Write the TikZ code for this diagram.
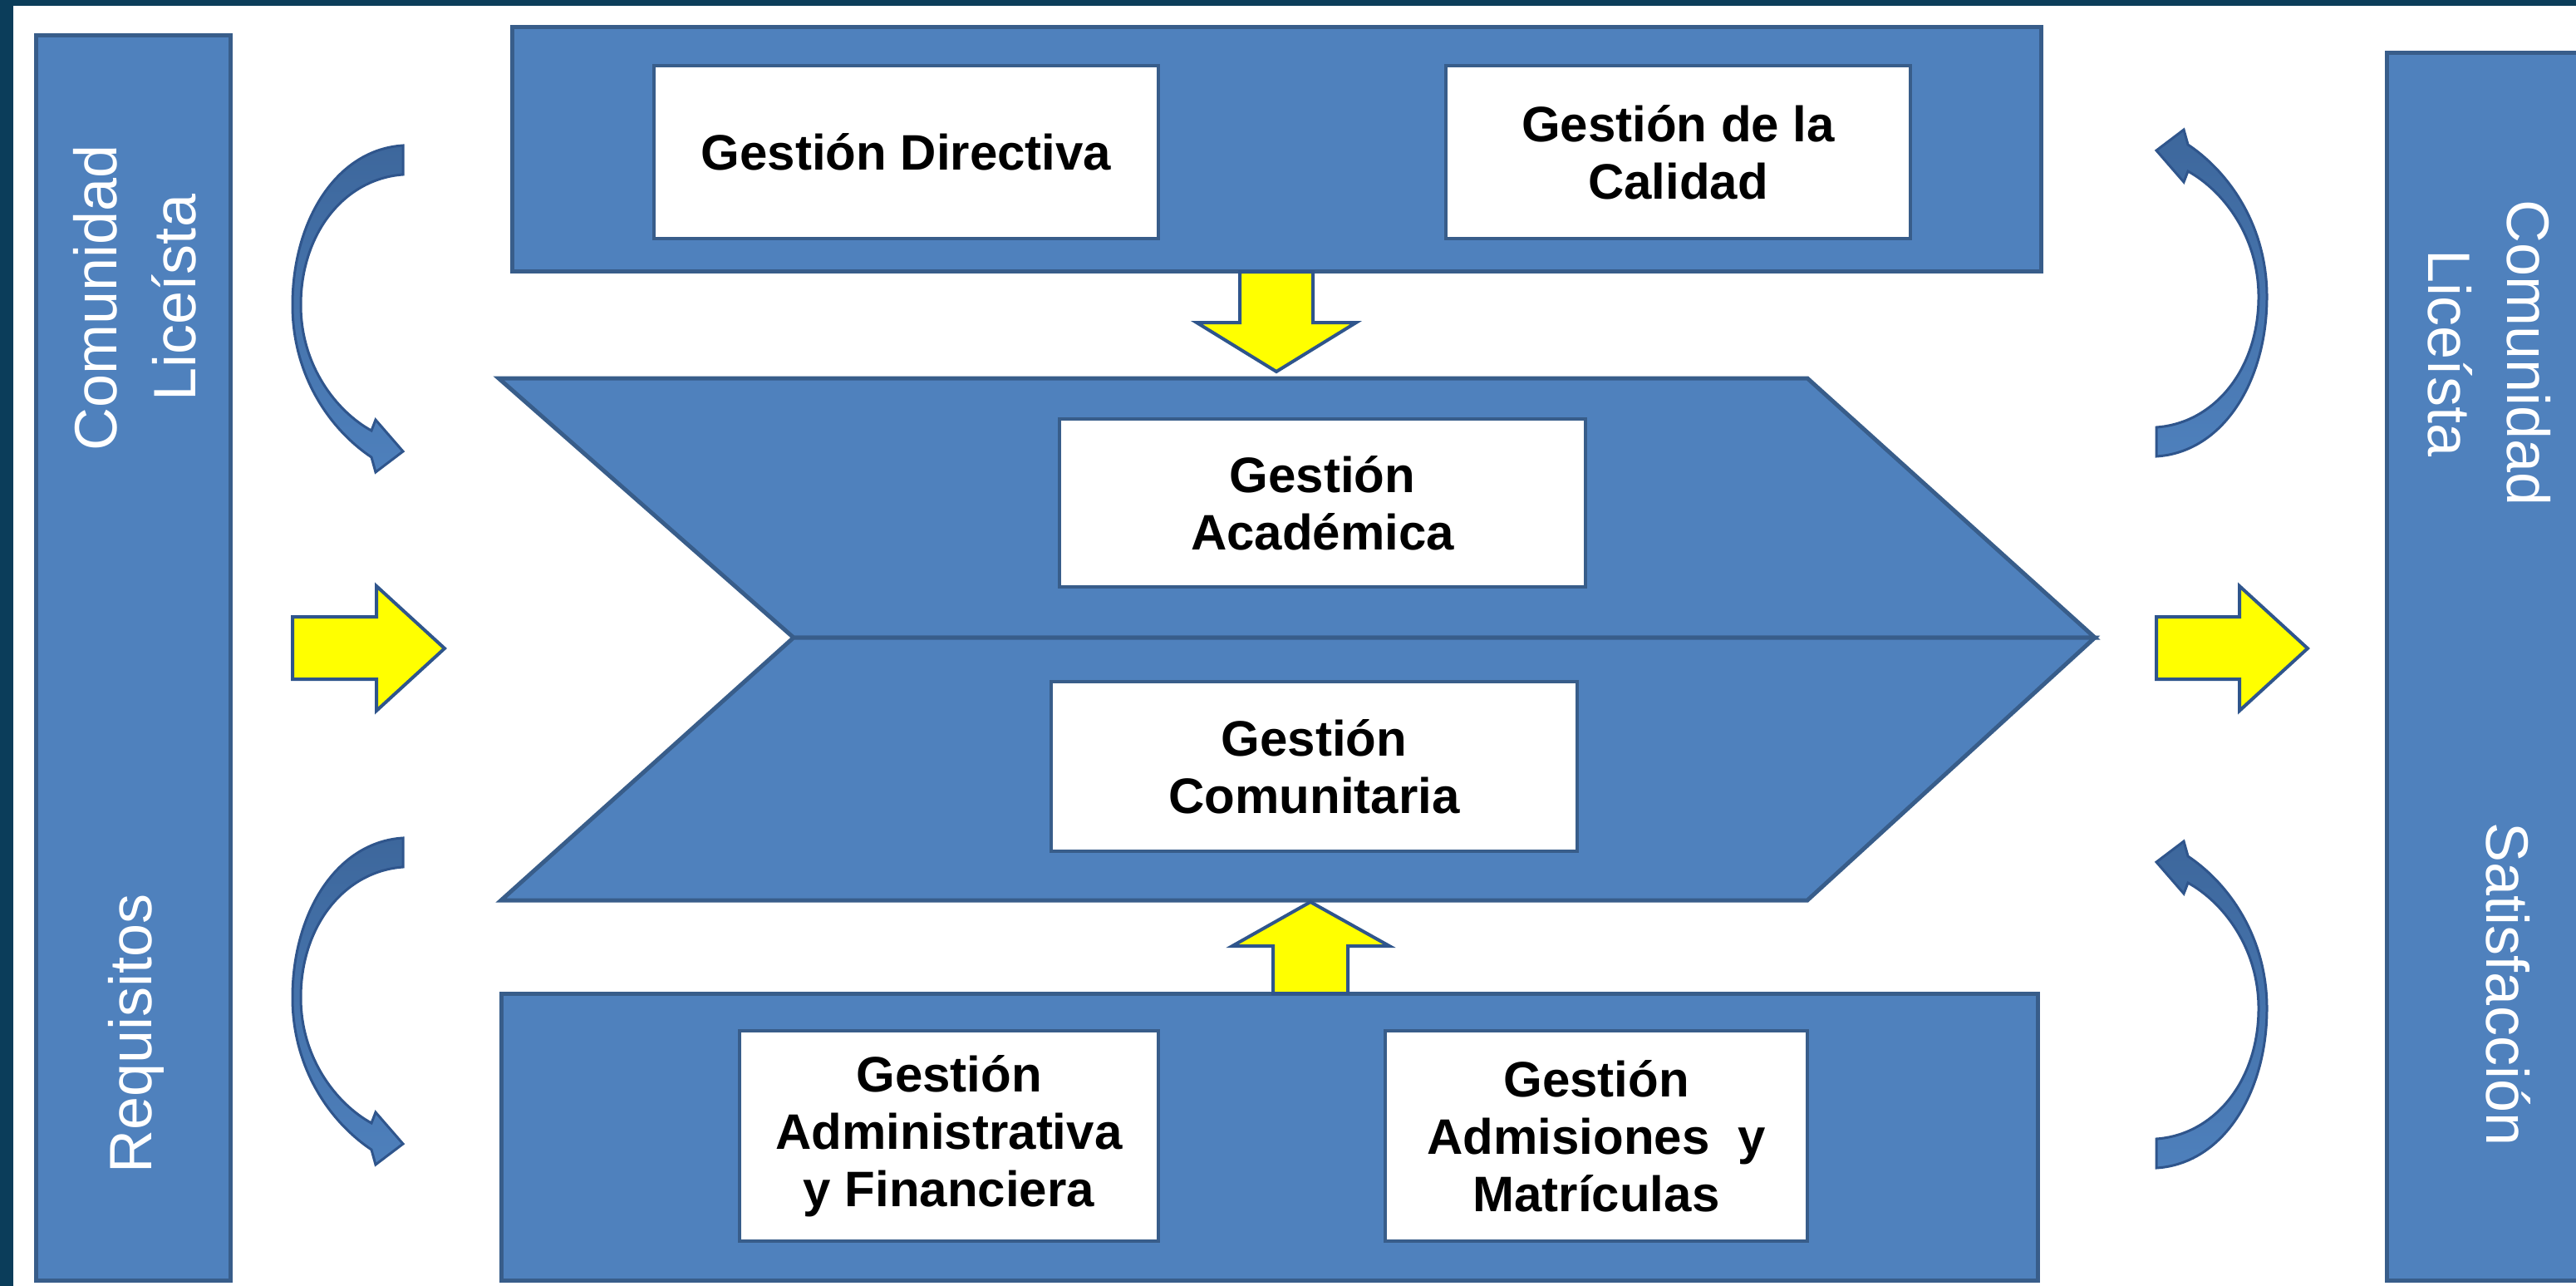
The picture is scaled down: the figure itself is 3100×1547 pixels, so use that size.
\documentclass[tikz,border=0pt]{standalone}
\usepackage{fontspec}
\setmainfont{Liberation Sans}
\definecolor{boxblue}{HTML}{4F81BD}
\definecolor{edgeblue}{HTML}{385D8A}
\definecolor{arcdark}{HTML}{3D679C}
\definecolor{arclight}{HTML}{4E80BC}
\definecolor{arcedge}{HTML}{2F558C}
\definecolor{frameblue}{HTML}{0B3D5A}
\definecolor{yel}{HTML}{FFFF00}
\newcommand\lcArrowShape{(485,175) .. controls (405,180) and (352,265) .. (352,367) .. controls (352,450) and (395,515) .. (447,550) -- (452,568) -- (485,543) -- (452,505) -- (447,518) .. controls (405,495) and (362,440) .. (362,367) .. controls (362,280) and (415,215) .. (485,210) -- cycle}
\tikzset{
 bigbox/.style={fill=boxblue, draw=edgeblue, line width=5pt, inner sep=0pt},
 whitebox/.style={fill=white, draw=edgeblue, line width=4pt, font=\fontsize{60}{69}\selectfont\bfseries, align=center, inner sep=0pt},
 sidetext/.style={text=white, font=\fontsize{72}{95}\selectfont, align=center, inner sep=0pt},
 yarrow/.style={fill=yel, draw=arcedge, line width=4pt},
 carrow/.style={top color=arcdark, bottom color=arclight, draw=arcedge, line width=3pt},
}
\begin{document}
\begin{tikzpicture}[x=1pt, y=-1pt]
\useasboundingbox (0,0) rectangle (3100,1547);
\fill[white] (0,0) rectangle (3100,1547);
\fill[frameblue] (0,0) rectangle (16,1547);
\fill[frameblue] (0,0) rectangle (3100,7);

% side boxes
\node[bigbox, minimum width=234pt, minimum height=1498pt] (leftbox) at (160,791) {};
\node[bigbox, minimum width=248pt, minimum height=1477pt] (rightbox) at (2996,801.5) {};
\node[sidetext, rotate=90] (lcom) at (162,358) {Comunidad\\Liceísta};
\node[sidetext, rotate=90] (lreq) at (164,1243) {Requisitos};
\node[sidetext, rotate=-90] (rcom) at (2996,425) {Comunidad\\Liceísta};
\node[sidetext, rotate=-90] (rsat) at (3019,1184) {Satisfacción};

% top and bottom boxes
\node[bigbox, minimum width=1840pt, minimum height=294pt] (topbox) at (1536,179) {};
\node[bigbox, minimum width=1849pt, minimum height=345pt] (botbox) at (1527.5,1367.5) {};

% chevron
\coordinate (chTL) at (600,455);
\coordinate (chTR) at (2175,455);
\coordinate (chTip) at (2521,767);
\coordinate (chNotch) at (955,767);
\coordinate (chBR) at (2175,1083);
\coordinate (chBL) at (603,1083);
\draw[bigbox] (chTL) -- (chTR) -- (chTip) -- (chNotch) -- cycle;
\draw[bigbox] (chNotch) -- (chTip) -- (chBR) -- (chBL) -- cycle;

% white boxes
\node[whitebox, minimum width=607pt, minimum height=208pt] (dir) at (1090.5,183) {Gestión Directiva};
\node[whitebox, minimum width=559pt, minimum height=208pt] (cal) at (2019.5,183) {Gestión de la\\Calidad};
\node[whitebox, minimum width=633pt, minimum height=202pt] (aca) at (1591.5,605) {Gestión\\Académica};
\node[whitebox, minimum width=633pt, minimum height=204pt] (com) at (1581.5,922) {Gestión\\Comunitaria};
\node[whitebox, minimum width=504pt, minimum height=253pt] (adm) at (1142,1366.5) {Gestión\\Administrativa\\y Financiera};
\node[whitebox, minimum width=508pt, minimum height=253pt] (mat) at (1921,1366.5) {Gestión\\Admisiones\ \ y\\Matrículas};

% yellow block arrows
\draw[yarrow] (352,742) -- (453,742) -- (453,705) -- (535,780) -- (453,855) -- (453,817) -- (352,817) -- cycle;
\draw[yarrow] (2595,742) -- (2695,742) -- (2695,705) -- (2777,780) -- (2695,855) -- (2695,817) -- (2595,817) -- cycle;
\draw[yarrow] (1492,327) -- (1580,327) -- (1580,388) -- (1632,388) -- (1536,447) -- (1440,388) -- (1492,388) -- cycle;
\draw[yarrow] (1532,1195) -- (1622,1195) -- (1622,1138) -- (1672,1138) -- (1577,1085) -- (1483,1138) -- (1532,1138) -- cycle;

% curved arrows
\path[carrow] \lcArrowShape;
\begin{scope}[shift={(0,833)}]
\path[carrow] \lcArrowShape;
\end{scope}
\begin{scope}[shift={(3080,724)}, rotate=180]
\path[carrow] \lcArrowShape;
\end{scope}
\begin{scope}[shift={(3080,1580)}, rotate=180]
\path[carrow] \lcArrowShape;
\end{scope}
\end{tikzpicture}
\end{document}
